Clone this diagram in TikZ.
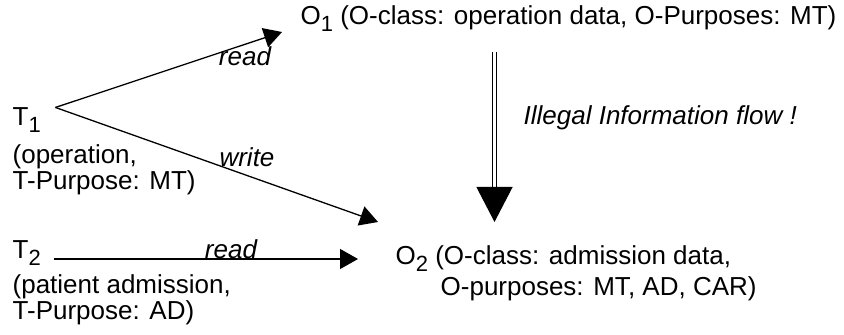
\documentclass[tikz,border=0pt]{standalone}
\usepackage{fontspec}
\setmainfont{Liberation Sans}
\usetikzlibrary{arrows.meta}
\newcommand{\lowidx}[1]{\raisebox{-3.5pt}{\fontsize{11}{11}\selectfont #1}}

\begin{document}
\begin{tikzpicture}[x=0.5pt,y=-0.5pt,line width=0.65pt,
  lbl/.style={inner sep=0pt,font=\fontsize{13}{13}\selectfont},
  txt/.style={lbl,align=left,anchor=base west},
  acc/.style={inner sep=0pt,font=\fontsize{13}{13}\selectfont\itshape},
  rel/.style={-{Triangle[length=9pt,width=10pt]}},
  illegal/.style={double,double distance=1.1pt,line width=0.6pt,
    -{Triangle[length=17.5pt,width=18pt]}}]
\useasboundingbox (0,0) rectangle (844,335);
% transactions (base = last line)
\node[lbl,anchor=base west] (T1) at (12,126) {T\lowidx{1}};
\node[txt] (T1d) at (12,190) {(operation,\\T-Purpose: MT)};
\node[lbl,anchor=base west] (T2) at (12,259) {T\lowidx{2}};
\node[txt] (T2d) at (12,320) {(patient admission,\\T-Purpose: AD)};
% objects
\node[lbl,anchor=base west] (O1) at (300,25)
  {O\lowidx{1} (O-class: operation data, O-Purposes: MT)};
\node[lbl,anchor=base west] (O2) at (395,265)
  {O\lowidx{2} (O-class: admission data,};
\node[lbl,anchor=base west] (O2d) at (440,296) {O-purposes: MT, AD, CAR)};
% arrow ends
\coordinate (r1tip) at (282,32);
\coordinate (wtip) at (378,222);
\coordinate (r2tip) at (358,259);
\coordinate (flowtop) at (494.5,52);
\coordinate (flowtip) at (494.5,222);
% accesses
\draw[rel] ([xshift=7pt]T1.north east) -- (r1tip);
\draw[rel] ([xshift=7pt]T1.north east) -- (wtip);
\draw[rel] ([xshift=6.5pt]T2.base east) -- (r2tip);
\node[acc] (rd1) at (245,56) {read};
\node[acc] (wr) at (247,157) {write};
\node[acc] (rd2) at (231,249) {read};
% information flow
\draw[illegal] (flowtop) -- (flowtip);
\node[acc,anchor=base west] (flow) at (523,125) {Illegal Information flow !};
\end{tikzpicture}
\end{document}
